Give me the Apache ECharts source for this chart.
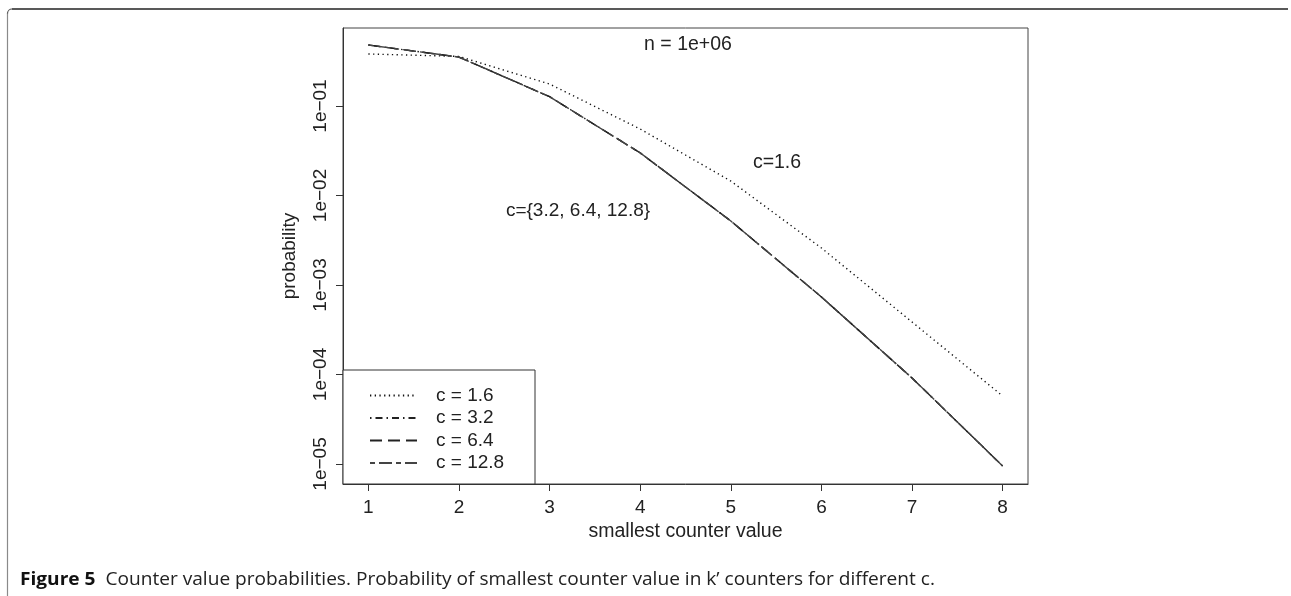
<!DOCTYPE html>
<html><head><meta charset="utf-8">
<script src="https://cdn.jsdelivr.net/npm/echarts@6/dist/echarts.min.js"></script>
<style>html,body{margin:0;padding:0;background:#fff}#c{width:1291px;height:596px}</style>
</head><body><div id="c"></div>
<script>
const xValues = [1, 2, 3, 4, 5, 6, 7, 8];
const xTickValues = [1, 2, 3, 4, 5, 6, 7, 8];
const yTickValues = [1e-5, 1e-4, 1e-3, 1e-2, 1e-1];
const yTickLabels = ['1e\u221205', '1e\u221204', '1e\u221203', '1e\u221202', '1e\u221201'];
const seriesNames = ['c = 1.6', 'c = 3.2', 'c = 6.4', 'c = 12.8'];
const c16 = [0.381, 0.358, 0.176, 0.0553, 0.0145, 0.00259, 0.000386, 0.0000575];
const c32 = [0.48, 0.352, 0.127, 0.0299, 0.00519, 0.000735, 0.0000914, 0.0000095];
const c64 = [0.48, 0.352, 0.127, 0.0299, 0.00519, 0.000735, 0.0000914, 0.0000095];
const c128 = [0.48, 0.352, 0.127, 0.0299, 0.00519, 0.000735, 0.0000914, 0.0000095];
const annotationTexts = ['n = 1e+06', 'c=1.6', 'c={3.2, 6.4, 12.8}'];
const xTitle = 'smallest counter value';
const yTitle = 'probability';
const captionBold = 'Figure 5';
const captionText = 'Counter value probabilities. Probability of smallest counter value in k\u2019 counters for different c.';

const FONT = '"Liberation Sans", Arial, Helvetica, sans-serif';
const CAPFONT = '"Open Sans", "Noto Sans", sans-serif';
const allSeries = [c16, c32, c64, c128];
const dashes = [[1.3, 3.4], [1.5, 4, 7, 4], [12, 6], [5, 4, 13, 4]];
const colors = ['#111', '#222', '#222', '#444'];

function pairs(arr) { return xValues.map((x, i) => [x, arr[i]]); }
function yLabel(v) {
  const i = yTickValues.findIndex(t => Math.abs(Math.log10(t) - Math.log10(v)) < 1e-6);
  return i >= 0 ? yTickLabels[i] : '';
}

const cv = document.createElement('canvas').getContext('2d');
cv.font = 'bold 18px ' + CAPFONT;
const wB = cv.measureText(captionBold + '  ').width;
cv.font = '18px ' + CAPFONT;
const wN = cv.measureText(captionText).width;
const capScale = (935 - 20) / (wB + wN);

const chart = echarts.init(document.getElementById('c'), null, { renderer: 'canvas' });
chart.setOption({
  animation: false,
  backgroundColor: '#fff',
  grid: { left: 343, top: 28, width: 685, height: 456, show: true, borderColor: '#444', borderWidth: 1 },
  xAxis: {
    type: 'value', min: 0.72, max: 8.28,
    axisLine: { show: true, onZero: false, lineStyle: { color: '#333', width: 1 } },
    axisTick: { show: true, customValues: xTickValues, length: 7, lineStyle: { color: '#333' } },
    axisLabel: { customValues: xTickValues, margin: 14, fontSize: 19, color: '#222', fontFamily: FONT },
    splitLine: { show: false },
    name: xTitle, nameLocation: 'middle', nameGap: 28,
    nameTextStyle: { fontSize: 19.5, color: '#222', fontFamily: FONT }
  },
  yAxis: {
    type: 'log', logBase: 10, min: 5.976e-6, max: 0.7437,
    axisLine: { show: true, lineStyle: { color: '#333', width: 1 } },
    axisTick: { show: true, customValues: yTickValues, length: 7, lineStyle: { color: '#333' } },
    axisLabel: { customValues: yTickValues, rotate: 90, margin: 13, fontSize: 19, color: '#222', fontFamily: FONT, formatter: yLabel },
    splitLine: { show: false },
    name: yTitle, nameLocation: 'middle', nameGap: 44, nameRotate: 90,
    nameTextStyle: { fontSize: 19, color: '#222', fontFamily: FONT }
  },
  legend: {
    data: seriesNames, orient: 'vertical', left: 364, top: 381,
    itemWidth: 47, itemHeight: 14, itemGap: 3.5,
    itemStyle: { opacity: 0, borderWidth: 0 },
    textStyle: { fontSize: 19, color: '#222', fontFamily: FONT, padding: [0, 0, 0, 14], lineHeight: 14 },
    z: 10
  },
  series: allSeries.map((arr, k) => ({
    name: seriesNames[k], type: 'line', data: pairs(arr), symbol: 'none',
    lineStyle: { color: colors[k], width: 1.4, type: dashes[k] },
    itemStyle: { color: colors[k] }
  })),
  graphic: [
    { type: 'line', shape: { x1: 12, y1: 9, x2: 1288, y2: 9 }, style: { stroke: '#222', lineWidth: 1.5 } },
    { type: 'line', shape: { x1: 7.5, y1: 13, x2: 7.5, y2: 596 }, style: { stroke: '#8a8a8a', lineWidth: 1.2 } },
    { type: 'arc', shape: { cx: 12, cy: 13.5, r: 4.5, startAngle: Math.PI, endAngle: 1.5 * Math.PI }, style: { stroke: '#555', lineWidth: 1.2, fill: null } },
    { type: 'rect', z: 5, shape: { x: 343, y: 370, width: 192, height: 114 }, style: { fill: '#fff', stroke: '#333', lineWidth: 1 } },
    { type: 'text', x: 688, y: 45, style: { text: annotationTexts[0], font: '19.5px ' + FONT, fill: '#222', align: 'center', verticalAlign: 'middle' } },
    { type: 'text', x: 777, y: 163, style: { text: annotationTexts[1], font: '19.5px ' + FONT, fill: '#222', align: 'center', verticalAlign: 'middle' } },
    { type: 'text', x: 578, y: 211, style: { text: annotationTexts[2], font: '19px ' + FONT, fill: '#222', align: 'center', verticalAlign: 'middle' } },
    { type: 'text', x: 20, y: 580, scaleX: capScale, originX: 0,
      style: { text: '{b|' + captionBold + '  }{n|' + captionText + '}', verticalAlign: 'middle',
        rich: { b: { font: 'bold 18px ' + CAPFONT, fill: '#111' }, n: { font: '18px ' + CAPFONT, fill: '#222' } } } }
  ]
});
</script></body></html>
